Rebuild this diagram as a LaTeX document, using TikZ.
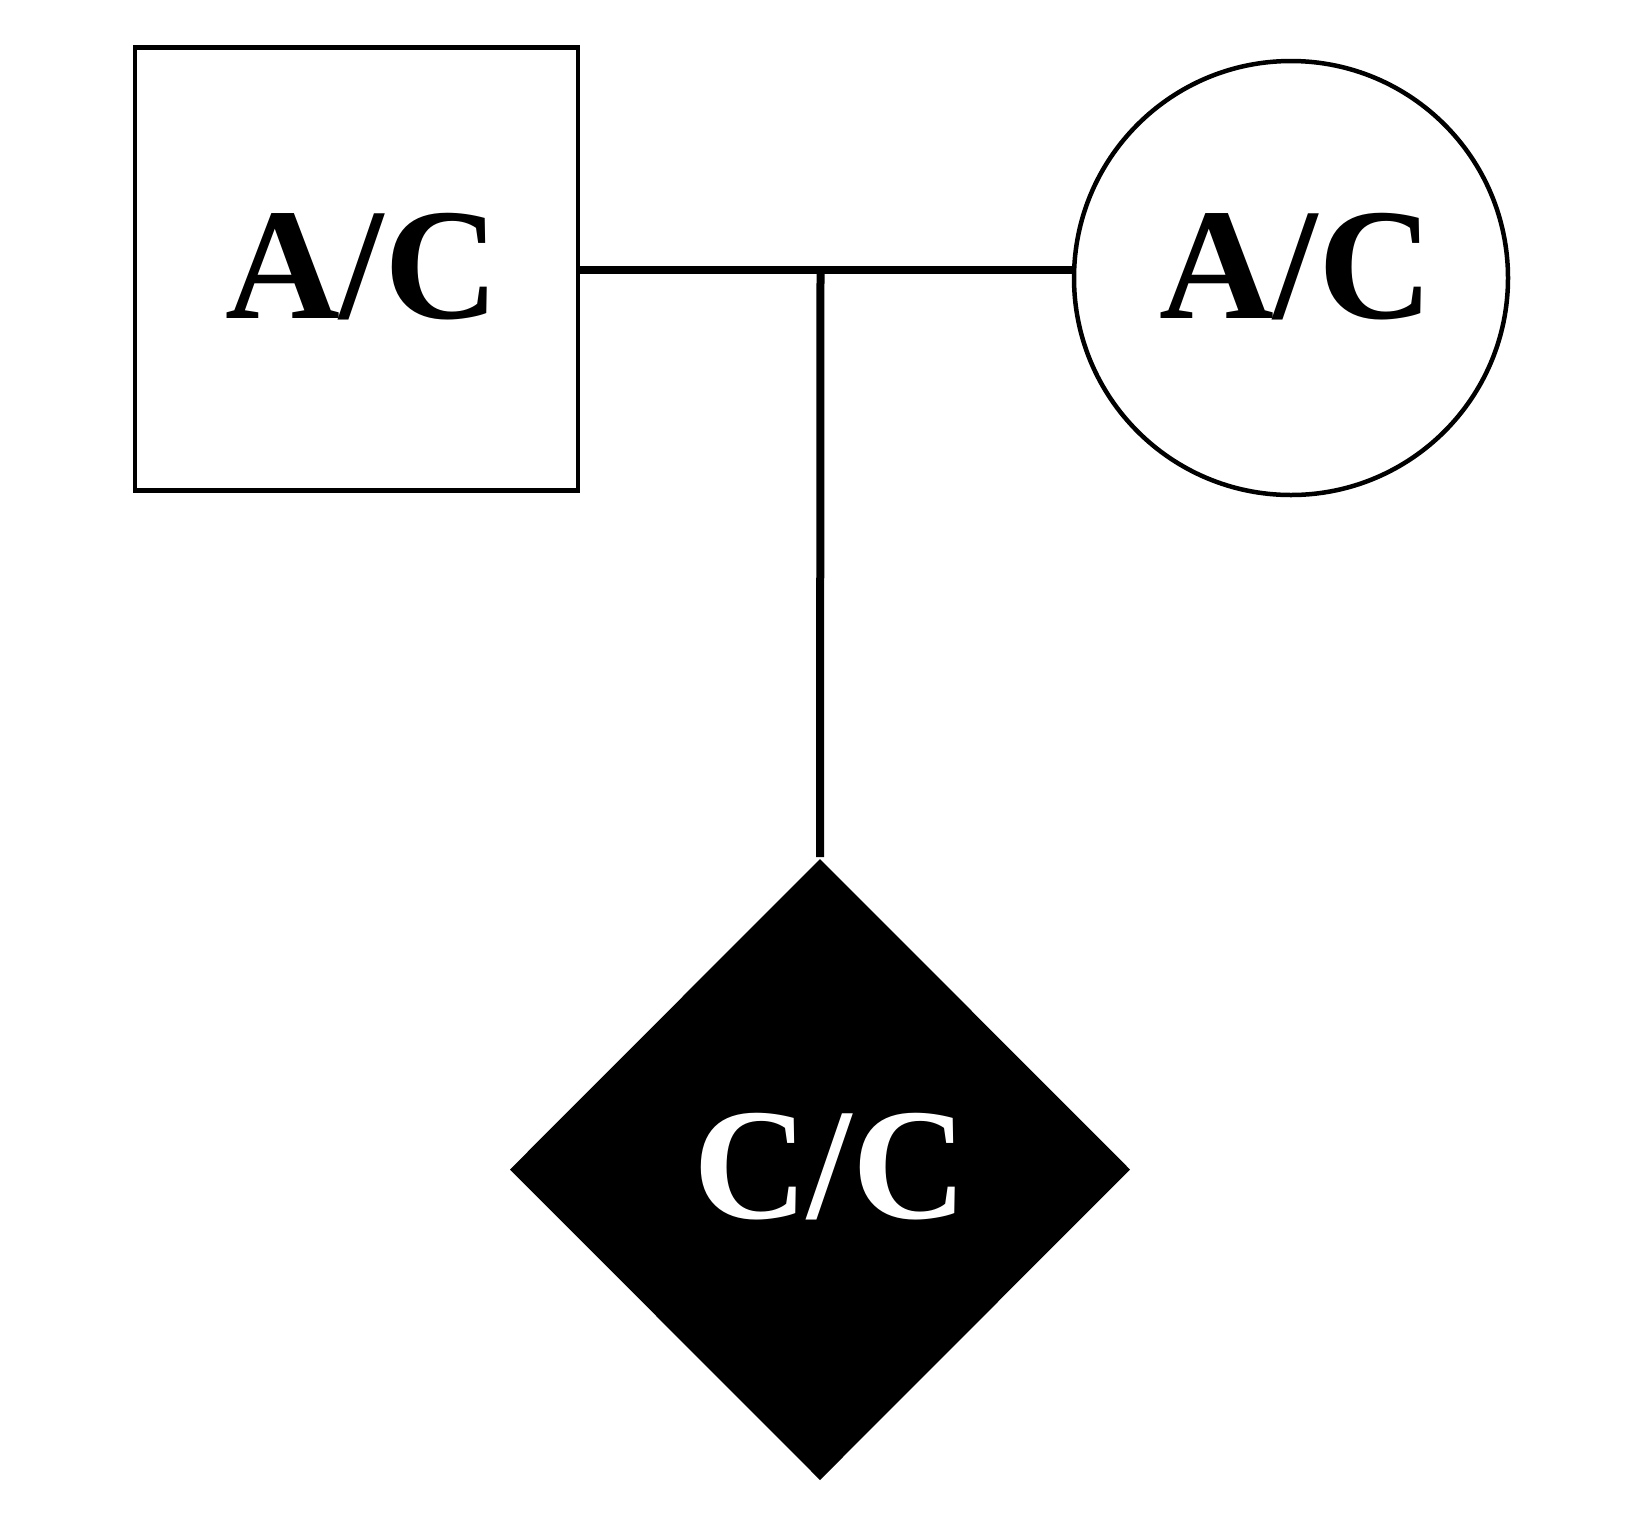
\documentclass[tikz,border=0pt]{standalone}
\usepackage{fontspec}
\setmainfont{Liberation Serif}
\usetikzlibrary{shapes.geometric}
\begin{document}
\begin{tikzpicture}[x=1pt,y=-1pt,
  lbl/.style={font=\fontsize{159}{160}\selectfont\bfseries, anchor=base, inner sep=0pt},
  shapebox/.style={draw=black, line width=4.5pt, inner sep=0pt, outer sep=0pt},
  link/.style={line width=8pt, draw=black}]
\useasboundingbox (0,0) rectangle (1643,1535);
\fill[white] (0,0) rectangle (1643,1535);
\node[shapebox, rectangle, minimum size=443pt] (father) at (356.5,269) {};
\node[shapebox, circle, minimum size=434pt] (mother) at (1291,278) {};
\node[diamond, fill=black, minimum width=620pt, minimum height=621pt, inner sep=0pt, outer sep=0pt] (child) at (820,1169.5) {};
\coordinate (mid) at (820.5,270);
\draw[link] (father.east |- mid) -- (mother.west |- mid);
\draw[link, shorten >=2pt] (mid) -- (child.north);
\node[lbl] (ftxt) at (362,318) {A/C};
\node[lbl] (mtxt) at (1296,318.5) {A/C};
\node[lbl, text=white] (ctxt) at (830,1218) {C/C};
\end{tikzpicture}
\end{document}
